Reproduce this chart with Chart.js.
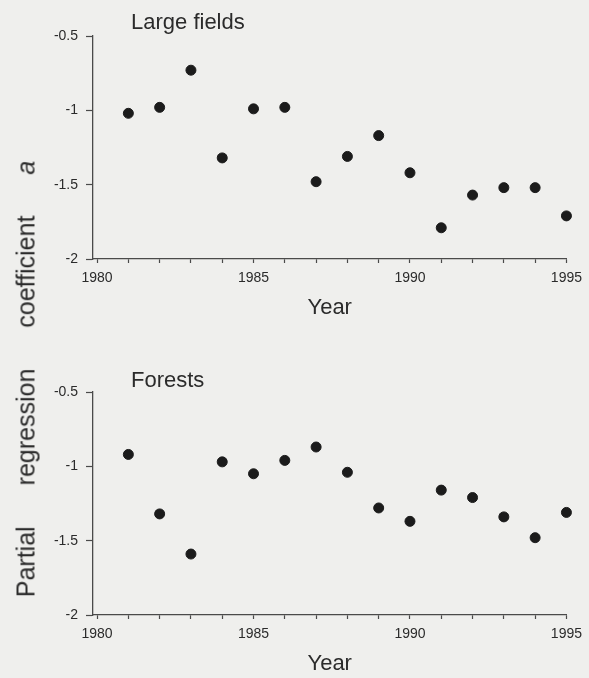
<!DOCTYPE html>
<html>
<head>
<meta charset="utf-8">
<script src="https://cdn.jsdelivr.net/npm/chart.js@4"></script>
<style>
  body { margin: 0; background: #efefed; }
  #wrap { position: relative; width: 589px; height: 678px; overflow: hidden; font-family: "Liberation Sans", Arial, sans-serif; color: #2b2b2b; }
  canvas { position: absolute; left: 0; }
  .panel-title { position: absolute; left: 131px; font-size: 22px; line-height: 22px; white-space: nowrap; }
  #ylab { position: absolute; left: 26px; top: 379px; transform: translate(-50%, -50%) rotate(-90deg); font-size: 25px; white-space: nowrap; word-spacing: 34px; }
</style>
</head>
<body>
<div id="wrap">
  <canvas id="top" width="589" height="322" style="top:0"></canvas>
  <canvas id="bottom" width="589" height="322" style="top:356px"></canvas>
  <div class="panel-title" style="top:11px">Large fields</div>
  <div class="panel-title" style="top:369px">Forests</div>
  <div id="ylab">Partial regression coefficient <i>a</i></div>
</div>
<script>
const years = [1981, 1982, 1983, 1984, 1985, 1986, 1987, 1988, 1989, 1990, 1991, 1992, 1993, 1994, 1995];
const largeFields = [-1.02, -0.98, -0.73, -1.32, -0.99, -0.98, -1.48, -1.31, -1.17, -1.42, -1.79, -1.57, -1.52, -1.52, -1.71];
const forests = [-0.92, -1.32, -1.59, -0.97, -1.05, -0.96, -0.87, -1.04, -1.28, -1.37, -1.16, -1.21, -1.34, -1.48, -1.31];
const yearLabels = [1980, 1985, 1990, 1995];
const yTicks = [-0.5, -1, -1.5, -2];

const axisColor = "#4a4a4a";
const textColor = "#2b2b2b";

// one minor tick per year, labels only every five years
function yearTicks() {
  const t = [];
  for (let v = yearLabels[0]; v <= yearLabels[yearLabels.length - 1]; v++) t.push({ value: v });
  return t;
}

function makePanel(id, values) {
  return new Chart(document.getElementById(id), {
    type: "scatter",
    data: {
      datasets: [{
        data: years.map((y, i) => ({ x: y, y: values[i] })),
        backgroundColor: "#1b1b1b",
        borderColor: "#1b1b1b",
        pointRadius: 5,
        pointHoverRadius: 5,
        clip: false
      }]
    },
    options: {
      responsive: false,
      animation: false,
      layout: { padding: { top: 36, right: 18, left: 0, bottom: 0 } },
      plugins: { legend: { display: false }, tooltip: { enabled: false } },
      scales: {
        x: {
          type: "linear",
          min: 1979.87,
          max: 1995,
          afterFit: s => { s.height = 63; },
          afterBuildTicks: s => { s.ticks = yearTicks(); },
          ticks: {
            autoSkip: false,
            maxRotation: 0,
            padding: 7,
            color: textColor,
            font: { family: "Liberation Sans", size: 14 },
            callback: v => yearLabels.includes(v) ? String(v) : ""
          },
          grid: { drawOnChartArea: false, drawTicks: true, tickLength: 4, color: axisColor, tickWidth: 1.2 },
          border: { display: true, color: axisColor, width: 1.3 },
          title: {
            display: true,
            text: "Year",
            color: textColor,
            font: { family: "Liberation Sans", size: 22 },
            padding: { top: 0, bottom: 1 }
          }
        },
        y: {
          min: -2,
          max: -0.5,
          afterFit: s => { s.width = 93; },
          afterBuildTicks: s => { s.ticks = yTicks.map(v => ({ value: v })); },
          ticks: {
            padding: 8,
            color: textColor,
            font: { family: "Liberation Sans", size: 14 },
            callback: v => String(v)
          },
          grid: { drawOnChartArea: false, drawTicks: true, tickLength: 7, color: axisColor, tickWidth: 1.2 },
          border: { display: true, color: axisColor, width: 1.3 }
        }
      }
    }
  });
}

makePanel("top", largeFields);
makePanel("bottom", forests);
</script>
</body>
</html>
